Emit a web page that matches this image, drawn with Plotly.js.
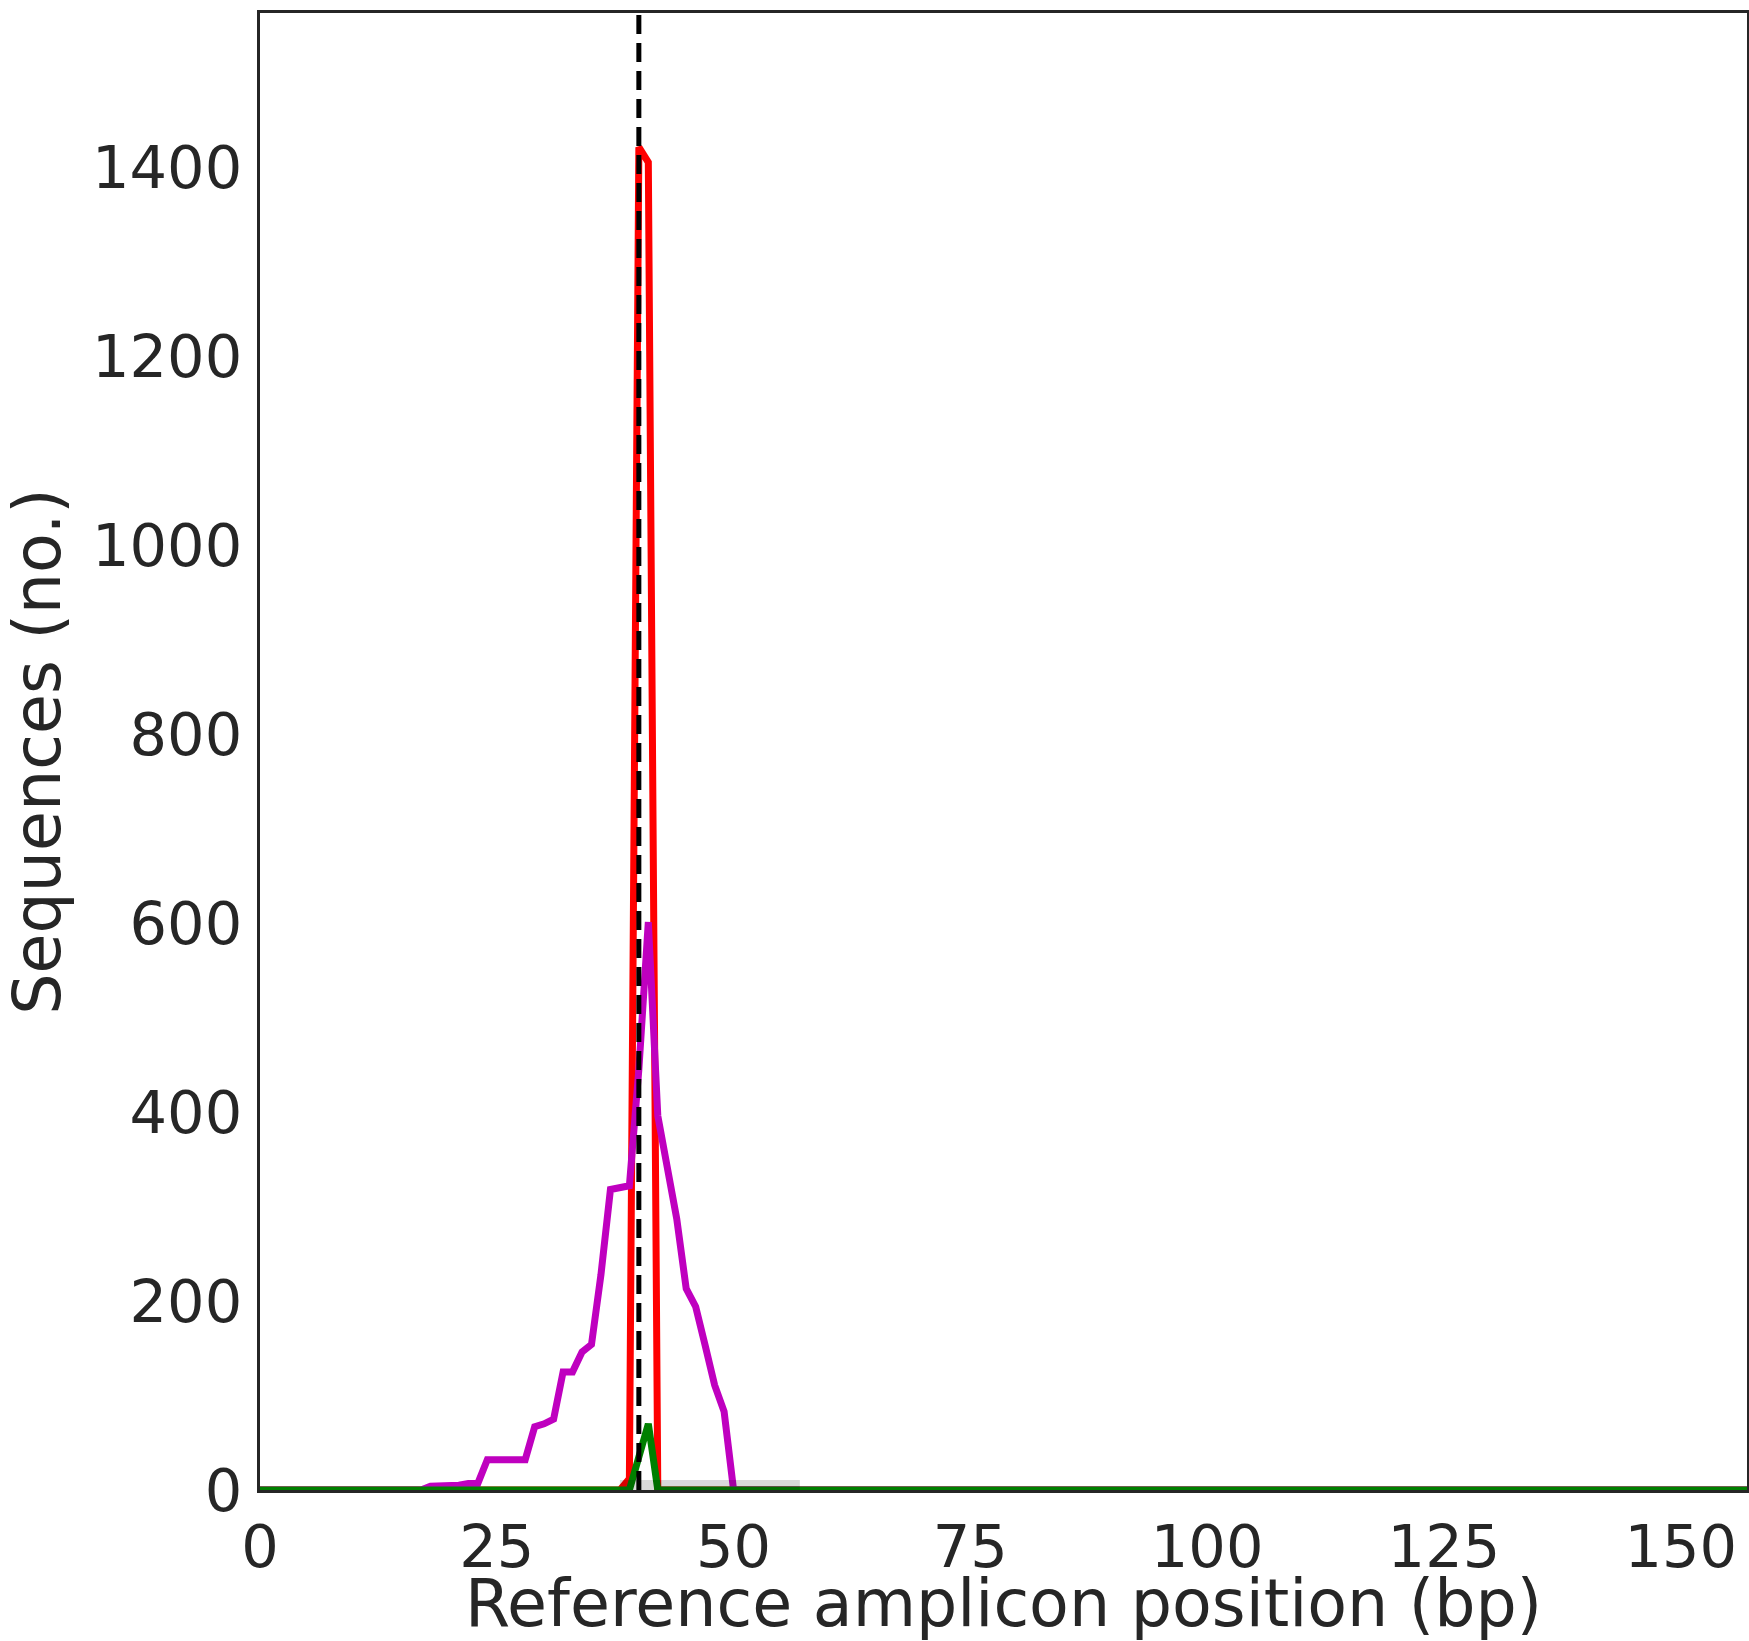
<!DOCTYPE html>
<html>
<head>
<meta charset="utf-8">
<script src="https://cdn.plot.ly/plotly-3.0.1.min.js"></script>
<style>
  html, body { margin: 0; padding: 0; background: #ffffff; }
  #chart { width: 1749px; height: 1641px; }
</style>
</head>
<body>
<div id="chart"></div>
<script>
// ---- Data (amplicon position in bp, number of sequences) ----
const insertionPos    = [0, 38, 39, 40, 41, 42, 157];
const insertionCounts = [0, 0, 12, 1421, 1405, 0, 0];

const deletionPos    = [0, 17, 18, 19, 20, 21, 22, 23, 24, 25, 26, 27, 28, 29, 30, 31, 32, 33, 34, 35, 36, 37, 38, 39, 40, 41, 42, 43, 44, 45, 46, 47, 48, 49, 50, 157];
const deletionCounts = [0, 0, 4, 4, 4, 5, 7, 7, 32, 32, 32, 32, 32, 67, 70, 75, 125, 125, 146, 154, 228, 318, 320, 322, 445, 601, 396, 341, 287, 213, 194, 153, 111, 83, 0, 0];

const substitutionPos    = [0, 39, 40, 41, 42, 157];
const substitutionCounts = [0, 0, 35, 70, 0, 0];

const cutSite = 40;            // predicted cleavage position
const sgRNAStart = 38;         // guide region (grey bar)
const sgRNAEnd = 57;
const sgRNABarHeight = 10.5;

const xRange = [0, 157];
const yRange = [0, 1563];
const xTicks = [0, 25, 50, 75, 100, 125, 150];
const yTicks = [0, 200, 400, 600, 800, 1000, 1200, 1400];

const xTitle = 'Reference amplicon position (bp)';
const yTitle = 'Sequences (no.)';

const textColor = '#262626';
const fontFamily = '"DejaVu Sans", "Liberation Sans", sans-serif';
const lineW = 7;

const traces = [
  { x: insertionPos, y: insertionCounts, type: 'scatter', mode: 'lines', name: 'Insertions',
    line: { color: '#ff0000', width: lineW }, hoverinfo: 'skip' },
  { x: deletionPos, y: deletionCounts, type: 'scatter', mode: 'lines', name: 'Deletions',
    line: { color: '#bf00bf', width: lineW }, hoverinfo: 'skip' },
  { x: substitutionPos, y: substitutionCounts, type: 'scatter', mode: 'lines', name: 'Substitutions',
    line: { color: '#008000', width: lineW }, hoverinfo: 'skip' }
];

const axisCommon = {
  showgrid: false, zeroline: false,
  showline: true, mirror: true, linecolor: textColor, linewidth: 3,
  ticks: '', tickfont: { family: fontFamily, size: 59, color: textColor },
  fixedrange: true
};

const layout = {
  width: 1749, height: 1641,
  margin: { l: 260, r: 2, t: 13, b: 151, autoexpand: false },
  paper_bgcolor: '#ffffff', plot_bgcolor: '#ffffff',
  showlegend: false,
  font: { family: fontFamily, color: textColor },
  xaxis: Object.assign({}, axisCommon, {
    range: xRange, tickmode: 'array', tickvals: xTicks, ticktext: xTicks.map(String),
    ticklabelstandoff: 3,
    title: { text: xTitle, font: { family: fontFamily, size: 65, color: textColor }, standoff: 7 },
    automargin: false
  }),
  yaxis: Object.assign({}, axisCommon, {
    range: yRange, tickmode: 'array', tickvals: yTicks, ticktext: yTicks.map(String),
    ticklabelstandoff: 3,
    title: { text: yTitle, font: { family: fontFamily, size: 65, color: textColor }, standoff: 16 },
    automargin: true
  }),
  shapes: [
    { type: 'rect', xref: 'x', yref: 'y', x0: sgRNAStart, x1: sgRNAEnd, y0: 0, y1: sgRNABarHeight,
      fillcolor: 'rgba(0,0,0,0.15)', line: { width: 0 }, layer: 'above' },
    { type: 'line', xref: 'x', yref: 'paper', x0: cutSite, x1: cutSite, y0: 0, y1: 1,
      line: { color: '#000000', width: 5, dash: '19px,9px' }, layer: 'above' }
  ]
};

Plotly.newPlot('chart', traces, layout, { staticPlot: true, displayModeBar: false });
</script>
</body>
</html>
